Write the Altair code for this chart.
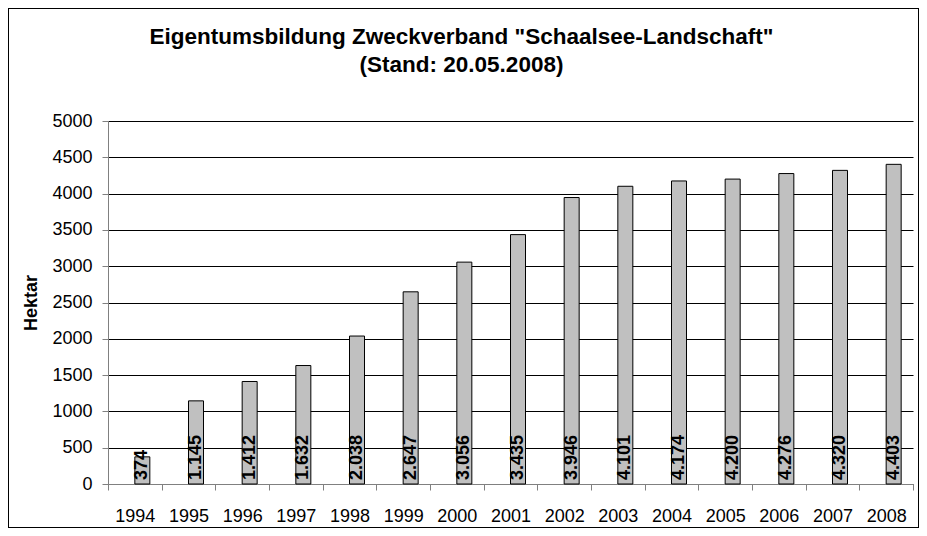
import altair as alt
import pandas as pd

years = ["1994", "1995", "1996", "1997", "1998", "1999", "2000", "2001",
         "2002", "2003", "2004", "2005", "2006", "2007", "2008"]
hektar = [374, 1145, 1412, 1632, 2038, 2647, 3056, 3435,
          3946, 4101, 4174, 4200, 4276, 4320, 4403]
labels = [f"{v:,}".replace(",", ".") for v in hektar]

df = pd.DataFrame({"Jahr": years, "Hektar": hektar, "Label": labels,
                   "Basis": [0] * len(years)})

W, H = 805, 363
FONT = "Liberation Sans"

x_axis = alt.Axis(labelAngle=0, tickBand="extent", tickSize=6,
                  labelPadding=17, labelFontSize=18, labelColor="black",
                  domainColor="#808080", tickColor="#808080", grid=False)
y_axis = alt.Axis(values=list(range(0, 5001, 500)), format="d", tickSize=6,
                  labelPadding=10, labelFontSize=18, labelColor="black",
                  titleFontSize=18, titleFontWeight="bold", titlePadding=11,
                  titleColor="black", domainColor="#808080", tickColor="#808080",
                  gridColor="#000000", gridOpacity=1, gridWidth=1)
y_scale = alt.Scale(domain=[0, 5000], nice=False)

x = alt.X("Jahr:N", sort=years, title=None,
          scale=alt.Scale(paddingInner=0, paddingOuter=0), axis=x_axis)

base = alt.Chart(df)

bars = base.mark_bar(width=15, xOffset=7.5, color="#C0C0C0", stroke="black",
                     strokeWidth=1).encode(
    x=x, y=alt.Y("Hektar:Q", title="Hektar", scale=y_scale, axis=y_axis))

text = base.mark_text(angle=270, align="left", baseline="middle", dx=4,
                      xOffset=7.5, fontSize=18, fontWeight="bold", font=FONT,
                      color="black").encode(
    x=x,
    y=alt.Y("Basis:Q", title="Hektar", scale=y_scale, axis=y_axis),
    text="Label:N")

frame = alt.Chart(df).mark_rect(fill=None, stroke="black", strokeWidth=1).encode(
    x=alt.value(-99.5), x2=alt.value(W + 5.5),
    y=alt.value(-112.5), y2=alt.value(H + 43.5))

chart = alt.layer(bars, text, frame).properties(
    width=W, height=H,
    autosize=alt.AutoSizeParams(type="none"),
    padding={"left": 100, "top": 113, "right": 6, "bottom": 44},
    title=alt.TitleParams(
        text=['Eigentumsbildung Zweckverband "Schaalsee-Landschaft"', "(Stand: 20.05.2008)"],
        anchor="middle", fontSize=22.5, fontWeight="bold", font=FONT,
        lineHeight=28, offset=-68, dx=-49, color="black"),
).configure_view(stroke=None).configure_axis(labelFont=FONT, titleFont=FONT)

chart.save("out.html", embed_options={"renderer": "svg", "actions": False})
